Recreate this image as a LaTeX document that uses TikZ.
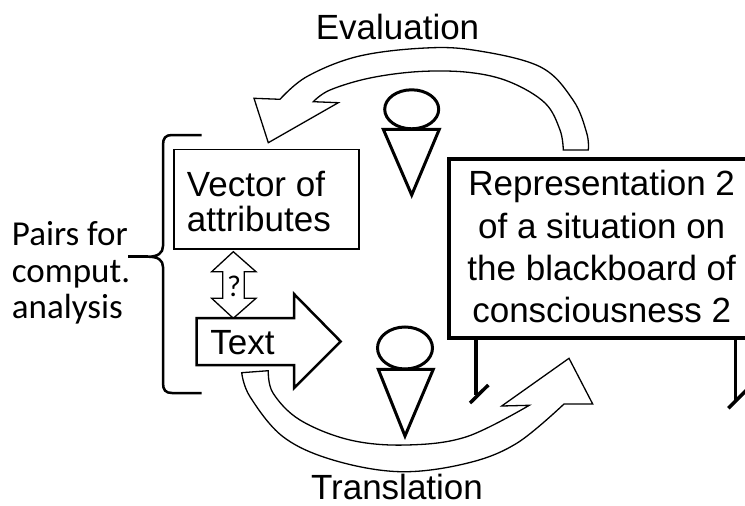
\documentclass[tikz,border=0pt]{standalone}
\usepackage{fontspec}
\setmainfont{Liberation Sans}
\newfontfamily\calib{Carlito}
\tikzset{
  bigarrow/.style={draw, fill=white, line width=1.3pt, line join=miter},
  person/.style={draw, line width=3pt},
  lbl/.style={font=\fontsize{35}{42}\selectfont, inner sep=0pt},
  cal/.style={font=\calib\fontsize{35}{40}\selectfont, inner sep=0pt},
}
\begin{document}
\begin{tikzpicture}[x=1pt, y=-1pt]
\useasboundingbox (0,0) rectangle (745,506);
\clip (0,0) rectangle (745,506);

% Evaluation curved arrow (top)
\draw[bigarrow] (563.3,150) -- (588.3,150)
  -- plot[smooth, tension=0.6] coordinates {(588.3,150) (586.7,133) (573,100) (540,66.7) (473,50) (420,48.3) (356.7,56.7) (306.7,76.7) (280,99.3)}
  -- (254,98.3) -- (268.3,142.7) -- (338.3,102.7) -- (313.3,101.7)
  -- plot[smooth, tension=0.6] coordinates {(313.3,101.7) (330,90) (370,78) (420,71.5) (470,72.5) (510,82) (545,103) (560,130) (563.3,150)}
  -- cycle;

% Translation curved arrow (bottom)
\draw[bigarrow] (241.7,372.7) -- (268.3,370.7)
  -- plot[smooth, tension=0.6] coordinates {(268.3,370.7) (273,393) (300,420) (350,440) (406.7,445) (466.7,436.7) (529.3,405.3)}
  -- (501.7,406) -- (569,358.3) -- (592.7,404) -- (564,404)
  -- plot[smooth, tension=0.6] coordinates {(564,404) (516.7,443.3) (466.7,463.3) (400,471.7) (333,460) (283,436.7) (250,396.7) (241.7,372.7)}
  -- cycle;

\node[lbl, anchor=base] (eval) at (397.5,39.3) {Evaluation};
\node[lbl, anchor=base] (trans) at (397,499.5) {Translation};

% persons
\draw[person] (411.7,109.3) ellipse [x radius=27pt, y radius=19.5pt];
\draw[person, line join=miter] (383.3,129.3) -- (439.3,129.3) -- (411.7,195) -- cycle;
\draw[person] (405,348) ellipse [x radius=27.5pt, y radius=21pt];
\draw[person, line join=miter] (378.3,369.3) -- (433.3,369.3) -- (405,436) -- cycle;

% Vector of attributes box
\node[draw, line width=1.3pt, minimum width=185pt, minimum height=99.3pt, inner sep=0pt, anchor=north west] (vec) at (173.3,149) {};
\node[lbl, anchor=base west] (vec1) at (186.7,196.7) {Vector of};
\node[lbl, anchor=base west] (vec2) at (186.7,231.7) {attributes};

% double arrow with ?
\draw[bigarrow] (233.3,251.7) -- (256,271.7) -- (244.3,271.7) -- (244.3,298.3) -- (256,298.3) -- (233.3,318.3) -- (211.7,298.3) -- (222.7,298.3) -- (222.7,271.7) -- (211.7,271.7) -- cycle;
\node[font=\calib\fontsize{30}{32}\selectfont, inner sep=0pt] (q) at (234,286) {?};

% Text block arrow
\draw[draw, fill=white, line width=2.5pt, line join=miter] (196.7,318) -- (294,318) -- (294,294) -- (340.7,341.5) -- (294,388) -- (294,365) -- (196.7,365) -- cycle;
\node[lbl, anchor=base] (txt) at (242.5,354) {Text};

% brace
\draw[line width=2.5pt] (201.7,135) -- (172,135) .. controls (165.5,135) and (163,138) .. (163,145)
  -- (163,246) .. controls (163,253) and (158,256.7) .. (148,256.7)
  .. controls (158,256.7) and (163,260) .. (163,267)
  -- (163,383) .. controls (163,390) and (165.5,393) .. (172,393) -- (201.7,393);
\draw[line width=2.5pt] (148,256.7) -- (128,256.7);

\node[cal, anchor=base west] (p1) at (11.7,245) {Pairs for};
\node[cal, anchor=base west] (p2) at (11.7,282) {comput.};
\node[cal, anchor=base west] (p3) at (11.7,318) {analysis};

% blackboard
\node[draw, line width=4pt, minimum width=318pt, minimum height=179pt, inner sep=0pt, anchor=north west] (board) at (447,157.3) {};
\node[lbl, anchor=base] (b1) at (601.7,195) {Representation 2};
\node[lbl, anchor=base] (b2) at (601.7,238) {of a situation on};
\node[lbl, anchor=base] (b3) at (601.7,280) {the blackboard of};
\node[lbl, anchor=base] (b4) at (601.7,322) {consciousness 2};
\draw[line width=3.5pt] (476,336) -- (476,395);
\draw[line width=3.5pt] (470,403) -- (488.3,385);
\draw[line width=3.5pt] (735.7,336) -- (735.7,400);
\draw[line width=3.5pt] (728.3,408.3) -- (750,386.6);
\end{tikzpicture}
\end{document}
